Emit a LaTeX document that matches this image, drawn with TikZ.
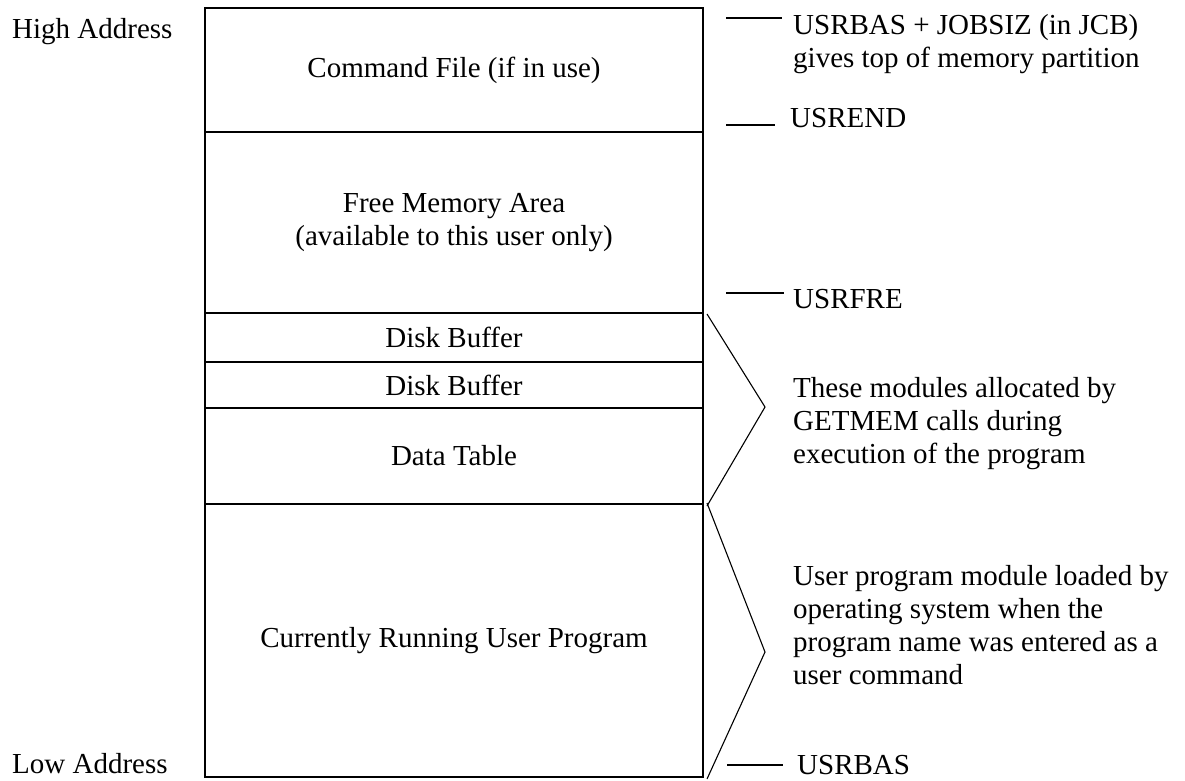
\documentclass[tikz,border=0pt]{standalone}
\usepackage{fontspec}
\setmainfont{Liberation Serif}
\usetikzlibrary{positioning}
\newcommand\memfont{\fontsize{29}{33}\selectfont}
\tikzset{
  region/.style={draw=black,line width=1.6pt,minimum width=498pt,inner sep=0pt,
                 outer sep=0pt,align=center,font=\memfont},
  note/.style={anchor=base west,inner sep=0pt,align=left,font=\memfont},
  brace/.style={draw=black,line width=1.1pt},
  tick/.style={draw=black,line width=1.1pt}
}
\begin{document}
\begin{tikzpicture}[x=1pt,y=-1pt]
            \useasboundingbox (0,0) rectangle (1185,780);
            \node[region,minimum height=124pt,anchor=north west] (cmd) at (205,8)
                 {Command File (if in use)};
            \node[region,minimum height=181pt,below=0pt of cmd] (free)
                 {Free Memory Area\\(available to this user only)};
            \node[region,minimum height=49pt,below=0pt of free] (buf1) {Disk Buffer};
            \node[region,minimum height=46pt,below=0pt of buf1] (buf2) {Disk Buffer};
            \node[region,minimum height=96pt,below=0pt of buf2] (tab) {Data Table};
            \node[region,minimum height=273pt,below=0pt of tab] (prog)
                 {Currently Running User Program};
            \node[note] (high) at (12,38) {High Address};
            \node[note] (low) at (12,773) {Low Address};
            \coordinate (tip1) at (765,407);
            \coordinate (tip2) at (765,652);
            \path[brace] ([xshift=4pt,yshift=-1pt]buf1.north east) -- (tip1)
                 -- ([xshift=4pt,yshift=-2pt]tab.south east);
            \path[brace] ([xshift=4pt,yshift=1pt]tab.south east) -- (tip2)
                 -- ([xshift=4pt,yshift=-2pt]prog.south east);
            \node[note] (top) at (793,67)
                 {USRBAS + JOBSIZ (in JCB)\\gives top of memory partition};
            \node[note] (usrend) at (790,127) {USREND};
            \node[note] (usrfre) at (793,308) {USRFRE};
            \node[note] (getmem) at (793,463)
                 {These modules allocated by\\GETMEM calls during\\execution of the program};
            \node[note] (loaded) at (793,684)
                 {User program module loaded by\\operating system when the\\program name was entered as a\\user command};
            \node[note] (usrbas) at (797,774) {USRBAS};
            \path[tick] (726,18) -- (782,18);
            \path[tick] (726,125) -- (775,125);
            \path[tick] (726,293) -- (784,293);
            \path[tick] (727,765) -- (783,765);
          \end{tikzpicture}
\end{document}
